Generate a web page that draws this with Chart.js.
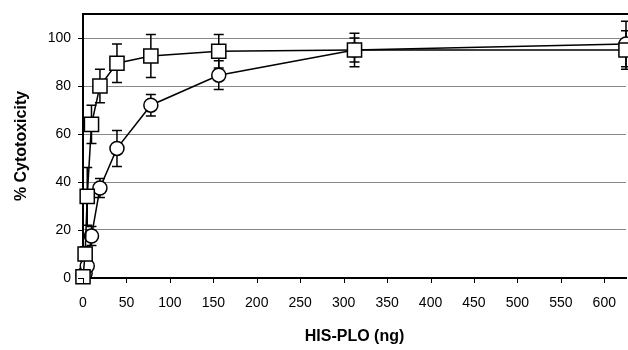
<!DOCTYPE html>
<html><head><meta charset="utf-8">
<script src="https://cdn.jsdelivr.net/npm/chart.js@4"></script>
<style>html,body{margin:0;padding:0;background:#fff}#w{width:628px;height:350px}</style>
</head><body><div id="w"><canvas id="c" width="628" height="350"></canvas></div>
<script>
const doses = [0, 2.44, 4.88, 9.77, 19.5, 39.1, 78.1, 156.25, 312.5, 625];
const squareValues = [0.5, 10, 34, 64, 80, 89.5, 92.5, 94.5, 95, 95];
const squareErrors = [0, 3, 12, 8, 7, 8, 9, 7, 7, 8];
const circleValues = [1, 2, 5, 17.5, 37.5, 54, 72, 84.5, 95, 97.5];
const circleErrors = [0, 1, 2, 4, 4, 7.5, 4.5, 6, 5, 9.5];
const xTickLabels = [0, 50, 100, 150, 200, 250, 300, 350, 400, 450, 500, 550, 600];
const yTickLabels = [0, 20, 40, 60, 80, 100];

const FONT = "'Liberation Sans', Arial, sans-serif";

const errorBars = {
  id: 'errorBars',
  beforeDatasetsDraw(chart) {
    const ctx = chart.ctx, xs = chart.scales.x, ys = chart.scales.y;
    ctx.save();
    ctx.strokeStyle = '#000';
    ctx.lineWidth = 1.5;
    chart.data.datasets.forEach(ds => {
      ds.data.forEach((p, i) => {
        const e = ds.errors[i];
        if (!e) return;
        const px = xs.getPixelForValue(p.x);
        const top = ys.getPixelForValue(p.y + e);
        const bot = ys.getPixelForValue(p.y - e);
        ctx.beginPath();
        ctx.moveTo(px, top); ctx.lineTo(px, bot);
        ctx.moveTo(px - 5, top); ctx.lineTo(px + 5, top);
        ctx.moveTo(px - 5, bot); ctx.lineTo(px + 5, bot);
        ctx.stroke();
      });
    });
    ctx.restore();
  },
  afterDraw(chart) {
    const ctx = chart.ctx, a = chart.chartArea, xs = chart.scales.x, ys = chart.scales.y;
    ctx.save();
    ctx.strokeStyle = '#000';
    ctx.lineWidth = 2;
    ctx.beginPath();
    ctx.moveTo(a.left, a.top); ctx.lineTo(628, a.top);
    ctx.stroke();
    ctx.lineWidth = 1;
    ctx.beginPath();
    xTickLabels.forEach(v => {
      const px = Math.round(xs.getPixelForValue(v)) + 0.5;
      ctx.moveTo(px, a.bottom); ctx.lineTo(px, a.bottom + 5);
    });
    yTickLabels.forEach(v => {
      const py = Math.round(ys.getPixelForValue(v)) + 0.5;
      ctx.moveTo(a.left - 5, py); ctx.lineTo(a.left, py);
    });
    ctx.stroke();
    ctx.restore();
  }
};

new Chart(document.getElementById('c'), {
  type: 'scatter',
  data: {
    datasets: [
      {
        label: 'squares',
        data: doses.map((d, i) => ({x: d, y: squareValues[i]})),
        errors: squareErrors,
        showLine: true,
        borderColor: '#000', borderWidth: 1.5,
        backgroundColor: '#fff',
        pointStyle: 'rect', pointRadius: 10, pointBorderWidth: 1.5,
        pointBackgroundColor: '#fff', pointBorderColor: '#000',
        clip: false
      },
      {
        label: 'circles',
        data: doses.map((d, i) => ({x: d, y: circleValues[i]})),
        errors: circleErrors,
        showLine: true,
        borderColor: '#000', borderWidth: 1.5,
        backgroundColor: '#fff',
        pointStyle: 'circle', pointRadius: 7, pointBorderWidth: 1.5,
        pointBackgroundColor: '#fff', pointBorderColor: '#000',
        clip: false
      }
    ]
  },
  options: {
    responsive: false,
    animation: false,
    layout: { autoPadding: false, padding: { top: 14, right: 2, left: 8, bottom: 0 } },
    plugins: { legend: { display: false }, tooltip: { enabled: false } },
    scales: {
      x: {
        type: 'linear', min: 0, max: 625,
        afterBuildTicks: s => { s.ticks = xTickLabels.map(v => ({value: v})); },
        afterFit: s => { s.height = 72; },
        border: { color: '#000', width: 2 },
        grid: { drawOnChartArea: false, tickLength: 17, tickColor: 'rgba(0,0,0,0)' },
        ticks: { color: '#000', font: { family: FONT, size: 14 }, padding: 0, maxRotation: 0,
                 autoSkip: false },
        title: { display: true, text: 'HIS-PLO (ng)', color: '#000',
                 font: { family: FONT, size: 16, weight: 'bold' }, padding: { top: 14 } }
      },
      y: {
        min: 0, max: 110,
        afterBuildTicks: s => { s.ticks = yTickLabels.map(v => ({value: v})); },
        afterFit: s => { s.width = 75; },
        border: { color: '#000', width: 2 },
        grid: { color: '#888', lineWidth: 1, tickLength: 12, tickColor: 'rgba(0,0,0,0)' },
        ticks: { color: '#000', font: { family: FONT, size: 14 }, padding: 0 },
        title: { display: true, text: '% Cytotoxicity', color: '#000',
                 font: { family: FONT, size: 16, weight: 'bold' }, padding: { bottom: 6 } }
      }
    }
  },
  plugins: [errorBars]
});
</script>
</body></html>
